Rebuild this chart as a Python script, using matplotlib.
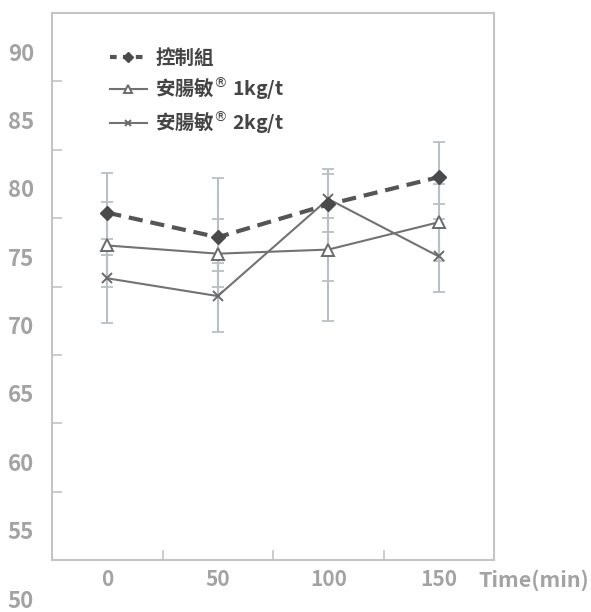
import matplotlib
matplotlib.use("Agg")
import matplotlib.pyplot as plt
import matplotlib.transforms as mtransforms
import numpy as np

# ---- data ----
times = [0, 50, 100, 150]
x_labels = ["0", "50", "100", "150"]
y_labels = [50, 55, 60, 65, 70, 75, 80, 85, 90]
series_names = ["控制組", "安腸敏$^{®}$ 1kg/t", "安腸敏$^{®}$ 2kg/t"]

ctrl_mean = [78.4, 76.6, 79.0, 81.0]
ctrl_low = [75.3, 74.1, 77.0, 79.0]
ctrl_high = [81.3, 80.9, 81.2, 83.6]

k1_mean = [76.0, 75.4, 75.7, 77.7]
k1_low = [73.0, 73.0, 70.5, 74.9]
k1_high = [79.2, 77.9, 78.0, 80.5]

k2_mean = [73.6, 72.3, 79.4, 75.2]
k2_low = [70.3, 69.7, 73.4, 72.6]
k2_high = [76.5, 74.7, 81.6, 77.9]

plt.rcParams['font.family'] = ['Noto Sans CJK TC', 'DejaVu Sans']

fig = plt.figure(figsize=(5.91, 6.12), dpi=100)
W, H = 591, 612
ax = fig.add_axes([52 / W, 1 - 560 / H, (494 - 52) / W, (560 - 13) / H])

spine_c = "#c4c4c4"
err_c = "#b9c0c5"
lab_c = "#a3a3a3"

x = np.array(times, dtype=float)

def draw_err(mean, low, high):
    mean = np.array(mean); low = np.array(low); high = np.array(high)
    yerr = np.vstack([mean - low, high - mean])
    ax.errorbar(x, mean, yerr=yerr, fmt="none", ecolor=err_c, elinewidth=1.5,
                capsize=4, capthick=1.3, zorder=1)

draw_err(ctrl_mean, ctrl_low, ctrl_high)
draw_err(k1_mean, k1_low, k1_high)
draw_err(k2_mean, k2_low, k2_high)

ax.plot(x, ctrl_mean, color="#555555", lw=3, ls=(0, (3.4, 1.9)), marker="D",
        ms=7.5, mfc="#4a4a4a", mec="#4a4a4a", zorder=4, label=series_names[0])
ax.plot(x, k1_mean, color="#727272", lw=1.5, marker="^", ms=8, mfc="white",
        mec="#6a6a6a", mew=1.4, zorder=3, label=series_names[1])
ax.plot(x, k2_mean, color="#727272", lw=1.5, marker="x", ms=7, mec="#6a6a6a",
        mew=1.4, zorder=3, label=series_names[2])

ax.set_xlim(-25, 175)
ax.set_ylim(53, 93)

for s in ax.spines.values():
    s.set_color(spine_c)
    s.set_linewidth(1.5)

ax.set_xticks([25, 75, 125])
ax.set_yticks([58, 63, 68, 73, 78, 83, 88])
ax.tick_params(axis="both", direction="in", length=7, width=1.2, color=spine_c,
               labelleft=False, labelbottom=False)

# y labels (offset from ticks as in the original)
ytr = mtransforms.blended_transform_factory(ax.transAxes, ax.transData)
off = mtransforms.ScaledTranslation(-18 / 100, 0, fig.dpi_scale_trans)
for v in y_labels:
    ax.text(0, v, str(v), transform=ytr + off, ha="right", va="center",
            fontsize=16, fontweight="bold", color=lab_c, clip_on=False)

# x labels
xtr = mtransforms.blended_transform_factory(ax.transData, ax.transAxes)
xoff = mtransforms.ScaledTranslation(0, -20 / 100, fig.dpi_scale_trans)
for t, lab in zip(times, x_labels):
    ax.text(t, 0, lab, transform=xtr + xoff, ha="center", va="center",
            fontsize=15, fontweight="bold", color=lab_c, clip_on=False)
fig.text(589 / W, 1 - 580 / H, "Time(min)", ha="right", va="center",
         fontsize=15.5, fontweight="bold", color=lab_c)

leg = ax.legend(loc="upper left", bbox_to_anchor=(50 / (494 - 52), 1 - 28 / (560 - 13)),
                frameon=False, fontsize=14, handlelength=1.9, handletextpad=0.45,
                labelspacing=0.4, borderaxespad=0, markerscale=0.7)
leg.get_lines()[0].set_dashes([1.6, 1.5])
for t in leg.get_texts():
    t.set_color("#454545")
    t.set_fontweight("bold")

fig.savefig("out.png", dpi=100)
